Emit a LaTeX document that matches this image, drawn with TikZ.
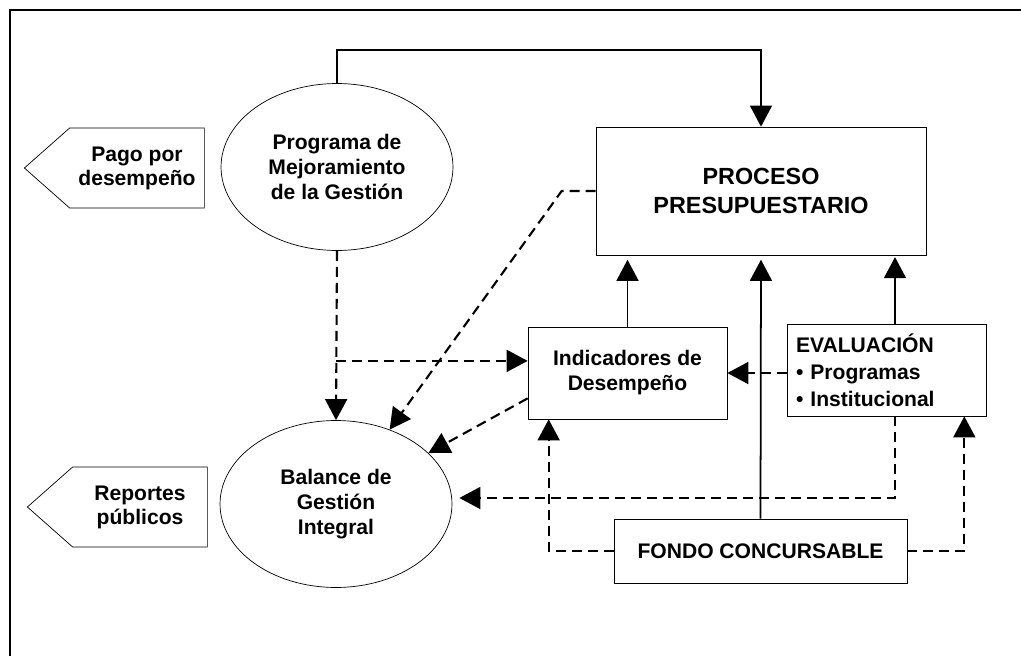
\documentclass[tikz,border=0pt]{standalone}
\usepackage{fontspec}
\setmainfont{Liberation Sans}
\usetikzlibrary{calc,shapes,positioning}
\usetikzlibrary{arrows.meta}

\begin{document}
\begin{tikzpicture}[x=0.02cm,y=-0.02cm]
    \tikzstyle{enode} = [draw, ellipse, minimum width=4.64cm, minimum height=3.34cm, inner sep=0pt, align=center, font=\bfseries\fontsize{12}{14.2}\selectfont]
    \tikzstyle{bnode} = [draw, rectangle, inner sep=2pt, align=center, font=\bfseries\fontsize{12}{14.2}\selectfont]
    \tikzstyle{pnode} = [draw, signal, signal to=west, signal pointer angle=83, minimum width=3.6cm, minimum height=1.6cm, inner sep=0pt, align=center, font=\bfseries\fontsize{12}{13.6}\selectfont]
    \tikzstyle{sarr} = [line width=1pt, -{Triangle[length=12pt,width=12.5pt]}]
    \tikzstyle{darr} = [sarr, line width=1.2pt, dash pattern=on 5.7pt off 3.4pt]
    \useasboundingbox (0,0) rectangle (1021,656);
    \draw[line width=0.6pt] (10,656) -- (10,10) -- (1021,10);
    % left side
    \node[pnode] (pago) at (137,168) {Pago por\\desempeño};
    \node[enode] (pmg) at (337,167) {Programa de\\Mejoramiento\\de la Gestión};
    \node[enode] (bgi) at (336,504) {Balance de\\Gestión\\Integral};
    \node[pnode] (rep) at (140,507) {Reportes\\públicos};
    % right side
    \node[bnode, minimum width=6.6cm, minimum height=2.56cm, font=\bfseries\fontsize{13.3}{16.4}\selectfont] (proc) at (761,191) {PROCESO\\PRESUPUESTARIO};
    \node[bnode, minimum width=3.98cm, minimum height=1.84cm] (ind) at (627.5,373) {Indicadores de\\Desempeño};
    \node[bnode, minimum height=1.84cm, text width=3.62cm, inner xsep=0.18cm, align=left, font=\bfseries\fontsize{12}{15.3}\selectfont] (eval) at (886.5,370) {EVALUACIÓN\\• Programas\\• Institucional};
    \node[bnode, minimum width=5.86cm, minimum height=1.28cm] (fondo) at (760.5,551) {FONDO CONCURSABLE};
    \coordinate (etop) at ($(eval.north)+(8.5,0)$);
    \coordinate (ebot) at ($(eval.south)+(8.5,0)$);
    \coordinate (br) at ($(pmg.south)!0.65!(bgi.north)$);
    % solid arrows
    \draw[sarr] (pmg.north) -- ++(0,-33) -| (proc.north);
    \draw[sarr, shorten >=2.5pt] (ind.north) -- (ind.north |- proc.south);
    \draw[sarr, shorten >=2.5pt] (fondo.north) -- (proc.south);
    \draw[sarr, shorten >=1pt] (etop) -- (etop |- proc.south);
    % dashed arrows
    \draw[darr] (proc.west) -- ++(-34,0) -- (bgi);
    \draw[darr] (pmg.south) -- (bgi.north);
    \draw[darr] (br) -- (br -| ind.west);
    \draw[darr] ($(ind.south west)+(0,-21)$) -- (bgi);
    \draw[darr] (ind.east -| eval.west) -- (ind.east);
    \draw[darr] (fondo.west) -| ($(ind.south west)+(21,0)$);
    \draw[darr] (fondo.east) -| ($(eval.south east)+(-22,0)$);
    \draw[darr, shorten >=4pt] (ebot) |- ($(bgi.east)+(0,-6)$);
\end{tikzpicture}
\end{document}
